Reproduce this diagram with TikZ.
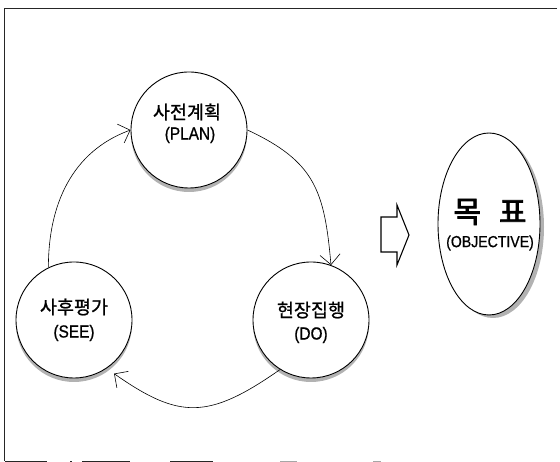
\documentclass[tikz,border=0pt]{standalone}
\usepackage{fontspec}
\setmainfont{Liberation Sans}
\newfontfamily\kr[FakeBold=1]{Noto Sans CJK KR}
\newfontfamily\krb[FakeBold=2.5]{Noto Sans CJK KR}
\newfontfamily\lat[FakeStretch=0.88,FakeBold=0.8]{Liberation Sans}
\usetikzlibrary{arrows.meta,shapes.geometric}
\begin{document}
\begin{tikzpicture}[x=1pt,y=1pt,
  stage/.style={circle, draw, line width=0.9pt, fill=white, minimum size=116pt, inner sep=0pt},
  shadow/.style={fill=gray!60, draw=none},
  kor/.style={inner sep=0pt, font=\kr\fontsize{18.5}{20}\selectfont},
  eng/.style={inner sep=0pt, font=\lat\fontsize{17.5}{19}\selectfont},
  link/.style={line width=0.6pt, -{Straight Barb[length=10pt,width=20pt]}},
  frame/.style={line width=0.9pt, black!85},
]
\useasboundingbox (0,0) rectangle (560,462);
% frame
\draw[frame] (557,454) -- (4,454) -- (4,1);
\draw[frame] (5,1) -- (47,1);
\draw[frame] (70,1) -- (72,1);
\draw[frame] (82,1) -- (130,1);
\draw[frame] (170,1) -- (213,1);
\draw[frame, black!35] (280,1) -- (297,1);
\draw[frame, black!35] (373,1) -- (381,1);
% shadows
\fill[shadow] (189,328) circle (58);
\fill[shadow] (74,138) circle (58);
\fill[shadow] (311,138) circle (58);
\fill[shadow] (493,235) ellipse (51 and 91);
% circles
\node[stage] (plan) at (189,332) {};
\node[stage] (see) at (74,142) {};
\node[stage] (do) at (311,142) {};
\node[ellipse, draw, line width=0.9pt, fill=white, minimum width=102pt, minimum height=182pt, inner sep=0pt] (goal) at (489,238) {};
% texts
\node[kor] (planK) at (187,350) {사전계획};
\node[eng] (planL) at (190,327) {(PLAN)};
\node[kor] (seeK) at (74,155) {사후평가};
\node[eng] (seeL) at (74,129) {(SEE)};
\node[kor] (doK) at (311,152) {현장집행};
\node[eng] (doL) at (311,127) {(DO)};
\node[inner sep=0pt, font=\krb\fontsize{30}{32}\selectfont] (goalK) at (490,250) {목\hspace{18pt}표};
\node[inner sep=0pt, font=\lat\fontsize{16}{18}\selectfont] (goalL) at (490,219) {(OBJECTIVE)};
% cycle connectors
\draw[link] (see.116) to[out=90, in=200] (plan.180);
\draw[link] (plan.0) to[out=-25, in=95, looseness=1.2] (do.70);
\draw[link, shorten >=9pt] (do.238) to[out=215, in=-35, looseness=1.3] (see.304);
% block arrow
\draw[line width=1.1pt, line join=miter] (381,245) -- (397,245) -- (397,257) -- (409,227) -- (397,197) -- (397,210) -- (381,210) -- cycle;
\end{tikzpicture}
\end{document}
